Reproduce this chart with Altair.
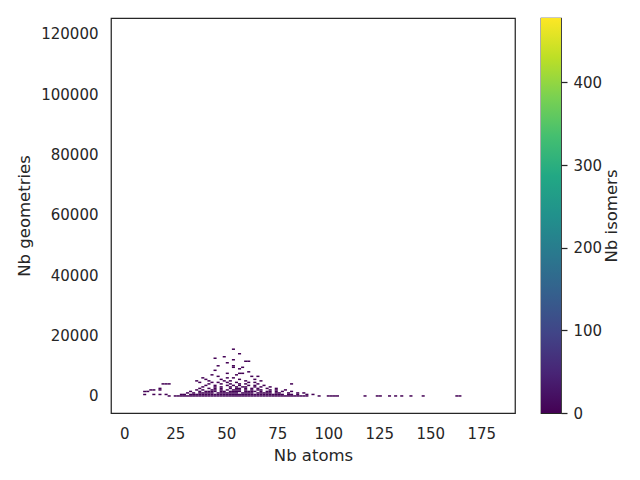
import altair as alt
import pandas as pd

# 2-D histogram.
# Column index -> Nb atoms bin centre = ATOMS_START + ATOMS_STEP * column
# Row index    -> Nb geometries bin centre = GEOM_STEP * row
ATOMS_START = 10.0
ATOMS_STEP = 1.5
GEOM_STEP = 500.0

# each entry: geometry row, first column, counts per column ('.' = empty bin)
hist_row = [0, 1, 2, 3, 4, 5, 6, 7, 8, 9, 10, 11, 12, 13, 14, 15, 16, 17,
            18, 19, 20, 22, 23, 24, 25, 26, 28, 31]
hist_first_col = [8, 0, 14, 0, 2, 5, 19, 20, 6, 18, 17, 20, 19, 24, 22, 27, 34, 23,
                  31, 29, 24, 27, 33, 29, 23, 26, 31, 29]
hist_counts = [
    "1.12123344556677889999999999998877665544332221...1..1211........1...11..1.1.1..1...1..........11",
    "1..1.1.1...." "11.1122334455667788776655443322111.11.1..1.1",
    "1.1.11223.4455667.7665.44332.11..1..1.1",
    "11............." "1..1.1122.33.4455.5443.3.22.1.1..1",
    "11.1" "..........." "1.1..12.2.3.344.3.2.21..1.1..1",
    "1" "............" "1..1.1.2..2.33.2.1.2..1..1.",
    "1...1.1..2.1.22..3.1..1.",
    "1..1...1.1.1..1.1..1",
    "111" "............" "1...1..1..1.1...1." "........." "1",
    "1...1.1..1..1...1.1",
    "1...1....1.1....1....1",
    "1....1.....1....1",
    "1.......1.1",
    "1..........1.1",
    "1.......1",
    "1...11",
    "1",
    "1",
    "1",
    "1..1",
    "1....1",
    "1",
    "11",
    "1",
    "1",
    "1",
    "1",
    "1",
]

x_ticks = [0, 25, 50, 75, 100, 125, 150, 175]
y_ticks = [0, 20000, 40000, 60000, 80000, 100000, 120000]
cbar_ticks = [0, 100, 200, 300, 400]
cbar_max = 478

viridis = ["#440154", "#482475", "#414487", "#355f8d", "#2a788e", "#21918c",
           "#22a884", "#44bf70", "#7ad151", "#bddf26", "#fde725"]

recs = []
for r, c0, s in zip(hist_row, hist_first_col, hist_counts):
    for k, ch in enumerate(s):
        if ch != ".":
            a = ATOMS_START + ATOMS_STEP * (c0 + k)
            g = GEOM_STEP * r
            recs.append({"a0": a - ATOMS_STEP / 2, "a1": a + ATOMS_STEP / 2,
                         "g0": g - GEOM_STEP / 2, "g1": g + GEOM_STEP / 2,
                         "n": int(ch)})
df = pd.DataFrame(recs)

FONT = "DejaVu Sans"
INK = "#262626"

main = alt.Chart(df).mark_rect().encode(
    x=alt.X("a0:Q", scale=alt.Scale(domain=[-6.5, 191.5], nice=False, zero=False),
            axis=alt.Axis(values=x_ticks, title="Nb atoms", ticks=False, tickSize=0,
                          labelPadding=13, titlePadding=6, format="d")),
    x2="a1:Q",
    y=alt.Y("g0:Q", scale=alt.Scale(domain=[-5650, 125300], nice=False, zero=False),
            axis=alt.Axis(values=y_ticks, title="Nb geometries", ticks=False, tickSize=0,
                          labelPadding=13, titlePadding=8, format="d")),
    y2="g1:Q",
    color=alt.Color("n:Q", scale=alt.Scale(scheme="viridis", domain=[0, cbar_max]),
                    legend=None),
).properties(width=404, height=395)

cb_df = pd.DataFrame({"lo": [0], "hi": [cbar_max]})
cbar = alt.Chart(cb_df).mark_rect(
    color=alt.Gradient(
        gradient="linear",
        stops=[alt.GradientStop(color=c, offset=i / (len(viridis) - 1))
               for i, c in enumerate(viridis)],
        x1=0, x2=0, y1=1, y2=0,
    )
).encode(
    x=alt.value(0),
    x2=alt.value(20),
    y=alt.Y("lo:Q", scale=alt.Scale(domain=[0, cbar_max], nice=False, zero=False),
            axis=alt.Axis(orient="right", values=cbar_ticks, title="Nb isomers",
                          ticks=True, tickSize=6, tickWidth=1.25, tickColor=INK,
                          labelPadding=6, titlePadding=2, titleAngle=270,
                          titleBaseline="top", format="d")),
    y2="hi:Q",
).properties(width=20, height=395)

chart = alt.hconcat(main, cbar, spacing=24).configure_view(
    stroke=INK, strokeWidth=1.25
).configure_axis(
    labelFont=FONT, titleFont=FONT, labelColor=INK, titleColor=INK,
    labelFontSize=15, titleFontSize=16.5, titleFontWeight="normal",
    grid=False, domain=False,
).properties(
    padding={"left": 8, "top": 9, "right": 5, "bottom": 5},
    background="white",
)

chart.save("out.html", embed_options={"renderer": "svg", "actions": False})
